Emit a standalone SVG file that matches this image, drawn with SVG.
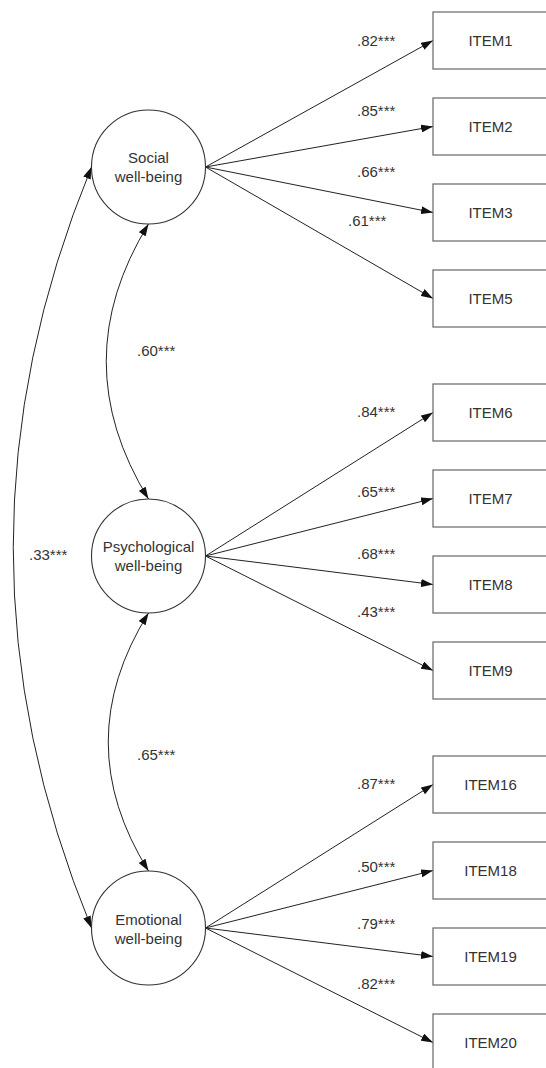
<svg xmlns="http://www.w3.org/2000/svg" width="546" height="1068" viewBox="0 0 546 1068">
<style>
text{font-family:"Liberation Sans",Arial,sans-serif;font-size:15px;fill:#333}
.box rect{fill:#fff;stroke:#666;stroke-width:1.2}
.box text{text-anchor:middle}
.lat circle{fill:#fff;stroke:#333;stroke-width:1.1}
.lat text{text-anchor:middle}
.conn path,.conn line{fill:none;stroke:#222;stroke-width:1}
</style>
<defs>
<marker id="ah" viewBox="0 0 12 8" refX="12" refY="4" markerWidth="12" markerHeight="8" markerUnits="userSpaceOnUse" orient="auto-start-reverse">
<path d="M0,0 L12,4 L0,8 Z" fill="#111"/>
</marker>
</defs>
<g class="conn">
<line x1="205.5" y1="167" x2="433" y2="40.5" marker-end="url(#ah)"/>
<line x1="205.5" y1="167" x2="433" y2="126.5" marker-end="url(#ah)"/>
<line x1="205.5" y1="167" x2="433" y2="212.5" marker-end="url(#ah)"/>
<line x1="205.5" y1="167" x2="433" y2="298.5" marker-end="url(#ah)"/>
<line x1="205.5" y1="556" x2="433" y2="412.5" marker-end="url(#ah)"/>
<line x1="205.5" y1="556" x2="433" y2="498.5" marker-end="url(#ah)"/>
<line x1="205.5" y1="556" x2="433" y2="584.5" marker-end="url(#ah)"/>
<line x1="205.5" y1="556" x2="433" y2="670.5" marker-end="url(#ah)"/>
<line x1="205.5" y1="928" x2="433" y2="784.5" marker-end="url(#ah)"/>
<line x1="205.5" y1="928" x2="433" y2="870.5" marker-end="url(#ah)"/>
<line x1="205.5" y1="928" x2="433" y2="956.5" marker-end="url(#ah)"/>
<line x1="205.5" y1="928" x2="433" y2="1042.5" marker-end="url(#ah)"/>
<path d="M148.5,224 Q64,361.5 148.5,499" marker-start="url(#ah)" marker-end="url(#ah)"/>
<path d="M148.5,613 Q68,742 148.5,871" marker-start="url(#ah)" marker-end="url(#ah)"/>
<path d="M91.5,167 Q-65,547.5 91.5,928" marker-start="url(#ah)" marker-end="url(#ah)"/>
<text x="357" y="45.5">.82***</text>
<text x="357" y="116">.85***</text>
<text x="357" y="176.5">.66***</text>
<text x="348" y="225.5">.61***</text>
<text x="137" y="355.5">.60***</text>
<text x="357" y="417">.84***</text>
<text x="357" y="496.5">.65***</text>
<text x="357" y="559">.68***</text>
<text x="357" y="616.5">.43***</text>
<text x="29" y="560">.33***</text>
<text x="137" y="760">.65***</text>
<text x="357" y="789">.87***</text>
<text x="357" y="872">.50***</text>
<text x="357" y="929">.79***</text>
<text x="357" y="989">.82***</text>
</g>
<g id="social" class="lat"><circle cx="148.5" cy="167" r="57"/><text x="148.5" y="163">Social</text><text x="148.5" y="182">well-being</text></g>
<g id="psychological" class="lat"><circle cx="148.5" cy="556" r="57"/><text x="148.5" y="552">Psychological</text><text x="148.5" y="571">well-being</text></g>
<g id="emotional" class="lat"><circle cx="148.5" cy="928" r="57"/><text x="148.5" y="924.5">Emotional</text><text x="148.5" y="943.5">well-being</text></g>
<g id="item1" class="box"><rect x="433" y="12" width="116" height="57"/><text x="490.5" y="46">ITEM1</text></g>
<g id="item2" class="box"><rect x="433" y="98" width="116" height="57"/><text x="490.5" y="132">ITEM2</text></g>
<g id="item3" class="box"><rect x="433" y="184" width="116" height="57"/><text x="490.5" y="218">ITEM3</text></g>
<g id="item5" class="box"><rect x="433" y="270" width="116" height="57"/><text x="490.5" y="304">ITEM5</text></g>
<g id="item6" class="box"><rect x="433" y="384" width="116" height="57"/><text x="490.5" y="418">ITEM6</text></g>
<g id="item7" class="box"><rect x="433" y="470" width="116" height="57"/><text x="490.5" y="504">ITEM7</text></g>
<g id="item8" class="box"><rect x="433" y="556" width="116" height="57"/><text x="490.5" y="590">ITEM8</text></g>
<g id="item9" class="box"><rect x="433" y="642" width="116" height="57"/><text x="490.5" y="676">ITEM9</text></g>
<g id="item16" class="box"><rect x="433" y="756" width="116" height="57"/><text x="490.5" y="790">ITEM16</text></g>
<g id="item18" class="box"><rect x="433" y="842" width="116" height="57"/><text x="490.5" y="876">ITEM18</text></g>
<g id="item19" class="box"><rect x="433" y="928" width="116" height="57"/><text x="490.5" y="962">ITEM19</text></g>
<g id="item20" class="box"><rect x="433" y="1014" width="116" height="57"/><text x="490.5" y="1048">ITEM20</text></g>
</svg>
